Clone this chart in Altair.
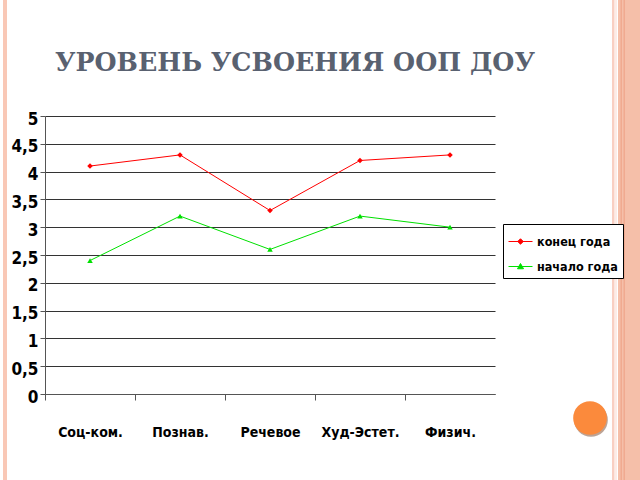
import altair as alt
import pandas as pd

# ---------------- data ----------------
categories = ["Соц-ком.", "Познав.", "Речевое", "Худ-Эстет.", "Физич."]
end_year = [4.1, 4.3, 3.3, 4.2, 4.3]
start_year = [2.4, 3.2, 2.6, 3.2, 3.0]
series_names = ["конец года", "начало года"]
series_colors = ["#ff0000", "#00e000"]
series_shapes = ["diamond", "triangle-up"]
legend_paths = [
    "M-1,0H1M0,-0.23L0.23,0L0,0.23L-0.23,0Z",
    "M-1,0H1M0,-0.25L0.25,0.19L-0.25,0.19Z",
]
y_ticks = [0, 0.5, 1, 1.5, 2, 2.5, 3, 3.5, 4, 4.5, 5]
title_text = "УРОВЕНЬ УСВОЕНИЯ ООП ДОУ"

rows = []
for s, vals in zip(series_names, [end_year, start_year]):
    for c, v in zip(categories, vals):
        rows.append({"cat": c, "value": v, "series": s})
df = pd.DataFrame(rows)
one = pd.DataFrame({"k": [0]})

FONT = "DejaVu Sans Condensed"

x_enc = alt.X(
    "cat:N", sort=categories,
    scale=alt.Scale(type="point", padding=0.5),
    axis=alt.Axis(title=None, labelAngle=0, domainColor="#555555", tickColor="#555555",
                  tickSize=6, tickOffset=-45, labelOffset=45, labelPadding=25,
                  labelFont=FONT, labelFontSize=14, labelFontWeight="bold",
                  labelColor="black", grid=False),
)
y_enc = alt.Y(
    "value:Q",
    scale=alt.Scale(domain=[0, 5], nice=False, zero=True),
    axis=alt.Axis(title=None, values=y_ticks,
                  labelExpr="replace(toString(datum.value), '.', ',')",
                  domainColor="#555555", tickColor="#555555", tickSize=5,
                  grid=True, gridColor="#333333", gridWidth=1,
                  labelPadding=2, labelOffset=3,
                  labelFont=FONT, labelFontSize=17, labelFontWeight="bold",
                  labelColor="black"),
)

layers = []

# decorative slide frame
def rect(x1, x2, color, y1=-116, y2=364):
    return alt.Chart(one).mark_rect(color=color).encode(
        x=alt.value(x1), x2=alt.value(x2), y=alt.value(y1), y2=alt.value(y2))

layers += [
    rect(-42, -38, "#f9c8b6"),
    rect(567, 569.5, "#f9cfc2"),
    rect(570.5, 571.5, "#fbd9cf"),
    rect(573, 595, "#f5bfa9"),
    rect(575.5, 577, "#f0aa90"),
    rect(578.5, 580, "#f0aa90"),
]

# title
layers.append(
    alt.Chart(one).mark_text(font="DejaVu Serif", fontSize=25.3, fontWeight="bold",
                             color="#596170", align="left", baseline="middle").encode(
        x=alt.value(10), y=alt.value(-53), text=alt.value(title_text))
)

# data series
for name, col, shp in zip(series_names, series_colors, series_shapes):
    sub = alt.Chart(df).transform_filter(alt.datum.series == name)
    layers.append(sub.mark_line(color=col, strokeWidth=1).encode(x=x_enc, y=y_enc))
    layers.append(sub.mark_point(shape=shp, filled=True, size=30, color=col, opacity=1).encode(x=x_enc, y=y_enc))

# legend carrier (drawn off-canvas)
leg = alt.Legend(orient="none", legendX=458, legendY=108, title=None,
                 strokeColor="black", fillColor="white", padding=5, rowPadding=6,
                 labelFont=FONT, labelFontSize=12.5, labelFontWeight="bold",
                 labelColor="black", labelOffset=4, symbolSize=576,
                 symbolStrokeWidth=1, cornerRadius=0)
layers.append(
    alt.Chart(pd.DataFrame({"series": series_names})).mark_point(
        filled=True, size=576, strokeWidth=1, opacity=1).encode(
        x=alt.value(-3000), y=alt.value(-3000),
        color=alt.Color("series:N", scale=alt.Scale(domain=series_names, range=series_colors), legend=leg),
        stroke=alt.Stroke("series:N", scale=alt.Scale(domain=series_names, range=series_colors), legend=leg),
        shape=alt.Shape("series:N", scale=alt.Scale(domain=series_names, range=legend_paths), legend=leg),
    )
)

# orange button
layers.append(alt.Chart(one).mark_circle(size=1134, color="#a07c68", opacity=0.7).encode(
    x=alt.value(546), y=alt.value(304)))
layers.append(alt.Chart(one).mark_circle(size=1134, color="#fb8a3c", opacity=1).encode(
    x=alt.value(545), y=alt.value(302)))

chart = alt.layer(*layers).properties(
    width=450, height=278,
    padding={"left": 45, "top": 116, "right": 145, "bottom": 86},
    autosize=alt.AutoSizeParams(type="none"),
    background="white",
).configure_view(stroke=None)

chart.save("out.html", embed_options={"renderer": "svg", "actions": False})
